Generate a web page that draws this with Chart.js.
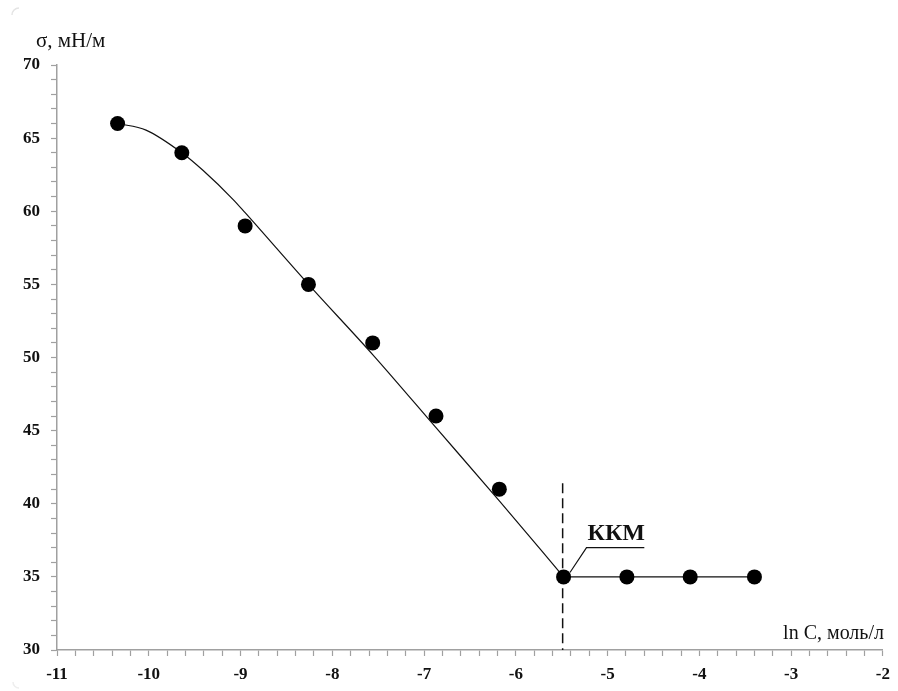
<!DOCTYPE html>
<html>
<head>
<meta charset="utf-8">
<script src="https://cdn.jsdelivr.net/npm/chart.js@4.4.1/dist/chart.umd.min.js"></script>
<style>
  html, body { margin: 0; padding: 0; background: #fff; }
  #wrap { width: 898px; height: 691px; position: relative; }
</style>
</head>
<body>
<div id="wrap"><canvas id="c" width="898" height="691"></canvas></div>
<script>
// Measured surface tension vs ln C
const lnC   = [-10.34, -9.64, -8.95, -8.26, -7.56, -6.87, -6.18, -5.48, -4.79, -4.10, -3.40];
const sigma = [66, 64, 59, 55, 51, 46, 41, 35, 35, 35, 35];

// Fitted descending branch (up to the CMC point)
const fitX = [-10.34, -10.03, -9.64, -9.41, -9.08, -8.95, -8.26, -7.56, -6.87, -6.18, -5.48];
const fitY = [66, 65.55, 64, 62.8, 60.8, 59.9, 55, 50.2, 45.2, 40.2, 35];

// Plateau after the CMC
const plateauX = [-5.48, -4.79, -4.10, -3.40];
const plateauY = [35, 35, 35, 35];

// CMC marker: vertical dashed line and callout
const cmcX = -5.49;
const cmcLineY = [41.4, 30];
const calloutX = [-5.41, -5.23, -4.60];
const calloutY = [35.3, 37.0, 37.0];
const cmcLabel = 'ККМ';

const xTitle = 'ln C, моль/л';
const yTitle = 'σ, мН/м';

const xMin = -11, xMax = -2, yMin = 30, yMax = 70;

const zip = (xs, ys) => xs.map((x, i) => ({ x, y: ys[i] }));

const serif = '"Liberation Serif", "Times New Roman", serif';

const textPlugin = {
  id: 'texts',
  afterDraw(chart) {
    const ctx = chart.ctx;
    const xs = chart.scales.x, ys = chart.scales.y;
    ctx.save();
    // axis titles
    ctx.fillStyle = '#111';
    ctx.font = '21px ' + serif;
    ctx.textBaseline = 'middle';
    ctx.textAlign = 'left';
    ctx.fillText(yTitle, 36, 41);
    ctx.font = '20px ' + serif;
    ctx.textAlign = 'right';
    ctx.fillText(xTitle, 884, 634);
    // CMC label
    ctx.font = 'bold 24px ' + serif;
    ctx.textAlign = 'left';
    ctx.textBaseline = 'alphabetic';
    ctx.fillText(cmcLabel, xs.getPixelForValue(calloutX[1]) + 1, ys.getPixelForValue(calloutY[1]) - 8);
    // faint frame corners
    ctx.strokeStyle = '#e4e4e4';
    ctx.lineWidth = 1.5;
    ctx.beginPath();
    ctx.arc(19, 15, 7, Math.PI, 1.5 * Math.PI);
    ctx.stroke();
    ctx.strokeStyle = '#eeeeee';
    ctx.beginPath();
    ctx.arc(19, 682, 6, 0.5 * Math.PI, Math.PI);
    ctx.stroke();
    ctx.restore();
  }
};

new Chart(document.getElementById('c'), {
  type: 'scatter',
  data: {
    datasets: [
      {
        data: zip(fitX, fitY),
        showLine: true,
        borderColor: '#111',
        borderWidth: 1.2,
        pointRadius: 0,
        cubicInterpolationMode: 'monotone',
        order: 3
      },
      {
        data: zip(plateauX, plateauY),
        showLine: true,
        borderColor: '#111',
        borderWidth: 1.4,
        pointRadius: 0,
        order: 3
      },
      {
        data: cmcLineY.map(y => ({ x: cmcX, y })),
        showLine: true,
        borderColor: '#111',
        borderWidth: 1.5,
        borderDash: [10, 5],
        pointRadius: 0,
        order: 3
      },
      {
        data: zip(calloutX, calloutY),
        showLine: true,
        borderColor: '#111',
        borderWidth: 1.2,
        pointRadius: 0,
        order: 3
      },
      {
        data: zip(lnC, sigma),
        showLine: false,
        pointRadius: 7.5,
        pointBackgroundColor: '#000',
        pointBorderColor: '#000',
        pointBorderWidth: 0,
        order: 1
      }
    ]
  },
  options: {
    responsive: false,
    animation: false,
    devicePixelRatio: 1,
    layout: { padding: { left: 0, top: 65, right: 13, bottom: 0 } },
    plugins: { legend: { display: false }, tooltip: { enabled: false }, title: { display: false } },
    scales: {
      x: {
        type: 'linear',
        min: xMin, max: xMax,
        afterFit(s) { s.height = 41; },
        border: { color: '#a0a0a0', width: 1.5 },
        grid: { drawOnChartArea: false, drawTicks: true, tickLength: 6, tickColor: '#a0a0a0', tickWidth: 1.2 },
        ticks: {
          stepSize: 0.2,
          autoSkip: false,
          maxRotation: 0,
          padding: 8,
          color: '#111',
          font: { family: serif, size: 17, weight: 'bold' },
          callback(v) {
            const r = Math.round(v);
            return Math.abs(v - r) < 1e-6 ? String(r) : '';
          }
        }
      },
      y: {
        type: 'linear',
        min: yMin, max: yMax,
        afterFit(s) { s.width = 57; },
        border: { color: '#a0a0a0', width: 1.5 },
        grid: { drawOnChartArea: false, drawTicks: true, tickLength: 6, tickColor: '#a0a0a0', tickWidth: 1.2 },
        ticks: {
          stepSize: 1,
          autoSkip: false,
          padding: 11,
          color: '#111',
          font: { family: serif, size: 17, weight: 'bold' },
          callback(v) {
            return v % 5 === 0 ? String(v) : '';
          }
        }
      }
    }
  },
  plugins: [textPlugin]
});
</script>
</body>
</html>
